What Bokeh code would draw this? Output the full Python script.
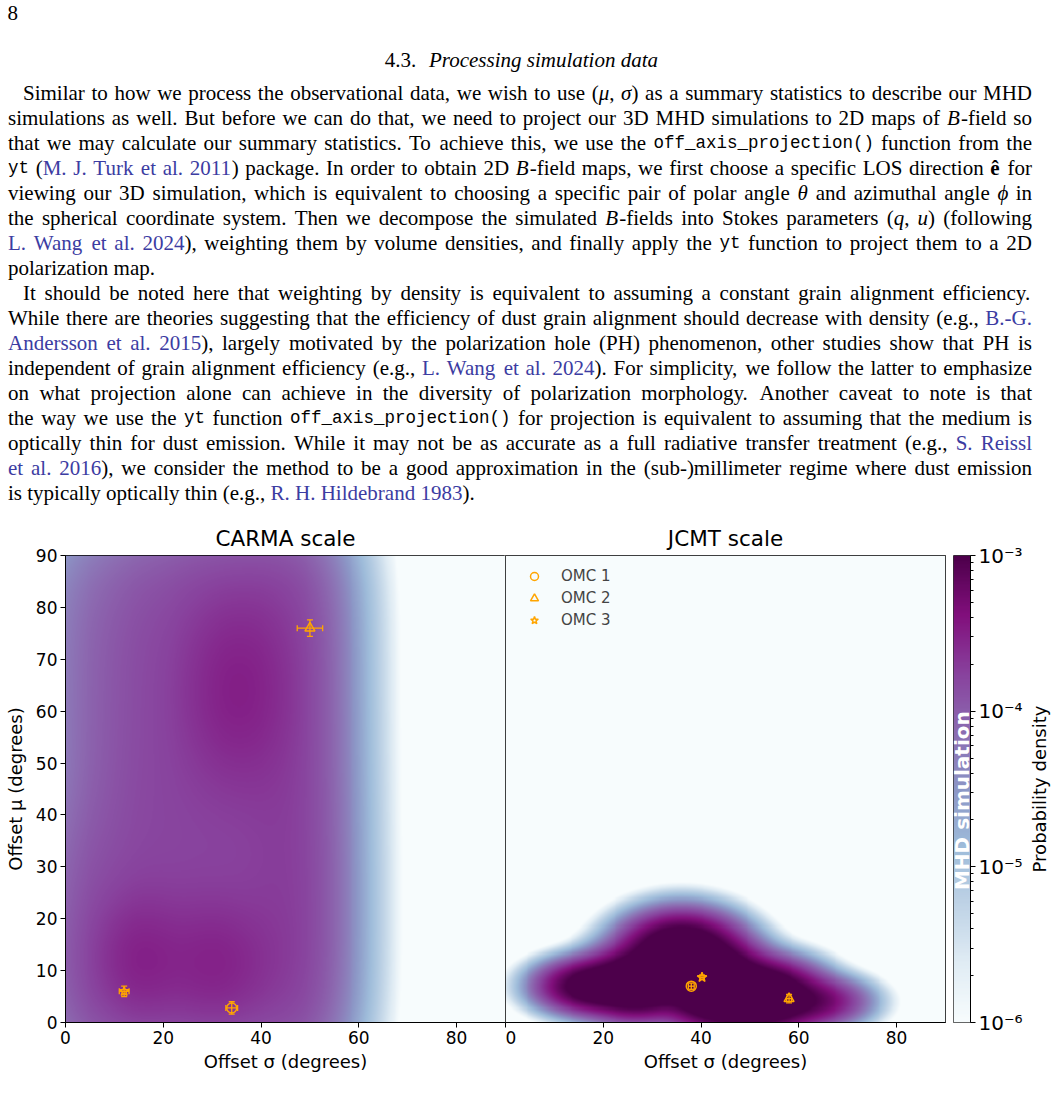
import numpy as np
from bokeh.plotting import figure
from bokeh.models import Range1d, ColumnDataSource, LinearColorMapper, FixedTicker
from bokeh.layouts import column, row
from bokeh.embed import file_html
from bokeh.resources import INLINE
from bokeh.core.properties import value

# ---------------- data ----------------
omc_labels = ["OMC 1", "OMC 2", "OMC 3"]
omc_markers = ["circle", "triangle", "star"]

carma_sigma = [34.0, 50.0, 12.0]
carma_mu = [2.8, 76.0, 6.0]
carma_sigma_err = [1.2, 2.6, 1.0]
carma_mu_err = [1.2, 1.6, 1.0]

jcmt_sigma = [38.0, 58.0, 40.2]
jcmt_mu = [7.0, 4.6, 8.7]
jcmt_sigma_err = [0.6, 0.5, 0.4]
jcmt_mu_err = [0.6, 0.8, 0.4]

# CARMA density: kernel weights on a coarse grid (units of 1e-5) + three dense spots
carma_grid_x = [4, 16, 28, 40, 49]
carma_grid_y = [2, 16, 30, 44, 58, 72, 86]
carma_grid_sx = [7, 7, 7, 7, 6.5]
carma_grid_sy = 9
carma_grid_w = [
    [6.5, 7.5, 7.5, 7.0, 6.5],
    [6.5, 7.5, 7.5, 7.0, 7.0],
    [5.5, 7.0, 7.0, 7.0, 7.0],
    [3.5, 7.0, 7.0, 7.0, 6.5],
    [3.5, 6.5, 7.5, 7.5, 6.0],
    [3.5, 6.5, 7.5, 7.5, 6.0],
    [3.0, 5.5, 7.0, 7.0, 5.5],
]
carma_spot_x = [15, 31, 35]
carma_spot_y = [12, 11, 64]
carma_spot_sx = [6, 7, 7]
carma_spot_sy = [8, 8, 12]
carma_spot_amp = [1.3e-4, 1.3e-4, 1.4e-4]

# JCMT density: kernel components
jcmt_cx = [18, 27, 36, 43, 52, 63]
jcmt_cy = [7, 7.5, 13, 7, 5, 4]
jcmt_sx = [5, 5, 5.5, 5, 5.5, 5]
jcmt_sy = [2.3, 3, 3.5, 3.5, 3, 2.2]
jcmt_amp = [1.8e-3, 3e-3, 3.2e-3, 4e-3, 3.5e-3, 0.6e-3]

cbar_exponents = [-6, -5, -4, -3]
cbar_labels = ["10\u207b\u2076", "10\u207b\u2075", "10\u207b\u2074", "10\u207b\u00b3"]

# ---------------- page text ----------------
para1 = [
    "Similar to how we process the observational data, we wish to use (*\u03bc*, *\u03c3*) as a summary statistics to describe our MHD",
    "simulations as well. But before we can do that, we need to project our 3D MHD simulations to 2D maps of *B*-field so",
    "that we may calculate our summary statistics. To achieve this, we use the `off_axis_projection()` function from the",
    "`yt` ([M. J. Turk et al. 2011]) package. In order to obtain 2D *B*-field maps, we first choose a specific LOS direction ^\u00ea^ for",
    "viewing our 3D simulation, which is equivalent to choosing a specific pair of polar angle *\u03b8* and azimuthal angle *\u03d5* in",
    "the spherical coordinate system. Then we decompose the simulated *B*-fields into Stokes parameters (*q*, *u*) (following",
    "[L. Wang et al. 2024]), weighting them by volume densities, and finally apply the `yt` function to project them to a 2D",
    "polarization map.",
]
para2 = [
    "It should be noted here that weighting by density is equivalent to assuming a constant grain alignment efficiency.",
    "While there are theories suggesting that the efficiency of dust grain alignment should decrease with density (e.g., [B.-G.]",
    "[Andersson et al. 2015]), largely motivated by the polarization hole (PH) phenomenon, other studies show that PH is",
    "independent of grain alignment efficiency (e.g., [L. Wang et al. 2024]). For simplicity, we follow the latter to emphasize",
    "on what projection alone can achieve in the diversity of polarization morphology. Another caveat to note is that",
    "the way we use the `yt` function `off_axis_projection()` for projection is equivalent to assuming that the medium is",
    "optically thin for dust emission. While it may not be as accurate as a full radiative transfer treatment (e.g., [S. Reissl]",
    "[et al. 2016]), we consider the method to be a good approximation in the (sub-)millimeter regime where dust emission",
    "is typically optically thin (e.g., [R. H. Hildebrand 1983]).",
]

SERIF = "Liberation Serif"
MONO = "Liberation Mono"
FS = 21.0
FSM = 17.5
LINK = "#3c3ca2"
W = {" ": 250, "!": 333, "(": 333, ")": 333, ",": 250, "-": 333, ".": 250, ":": 278, ";": 278,
     "0": 500, "1": 500, "2": 500, "3": 500, "4": 500, "5": 500, "6": 500, "7": 500, "8": 500, "9": 500,
     "A": 722, "B": 667, "C": 667, "D": 722, "E": 611, "F": 556, "G": 722, "H": 722, "I": 333, "J": 389,
     "K": 722, "L": 611, "M": 889, "N": 722, "O": 722, "P": 556, "Q": 722, "R": 667, "S": 556, "T": 611,
     "U": 722, "V": 722, "W": 944, "X": 722, "Y": 722, "Z": 611,
     "a": 444, "b": 500, "c": 444, "d": 500, "e": 444, "f": 333, "g": 500, "h": 500, "i": 278, "j": 278,
     "k": 500, "l": 278, "m": 778, "n": 500, "o": 500, "p": 500, "q": 500, "r": 333, "s": 389, "t": 278,
     "u": 500, "v": 500, "w": 722, "x": 500, "y": 500, "z": 444}


def seg_width(txt, st):
    if st[1]:
        return 0.6 * FSM * len(txt)
    return sum(W.get(c, 500) for c in txt) / 1000.0 * FS


def parse(line):
    words, cur, buf = [], [], ""
    st = [False, False, False, False]  # italic, mono, link, bold
    for ch in line + " ":
        if ch in "*`[]^":
            if buf:
                cur.append((buf, tuple(st)))
                buf = ""
            idx = {"*": 0, "`": 1, "[": 2, "]": 2, "^": 3}[ch]
            st[idx] = not st[idx]
        elif ch == " ":
            if buf:
                cur.append((buf, tuple(st)))
                buf = ""
            if cur:
                words.append(cur)
                cur = []
        else:
            buf += ch
    return words


groups = {}


def add_seg(x, y, txt, st):
    font = MONO if st[1] else SERIF
    size = FSM if st[1] else FS
    style = "bold" if st[3] else ("italic" if st[0] else "normal")
    color = LINK if st[2] else "black"
    g = groups.setdefault((font, size, style, color), {"x": [], "y": [], "text": []})
    g["x"].append(x)
    g["y"].append(y)
    g["text"].append(txt)


LEFT, RIGHT, INDENT = 7.5, 1031.5, 15.0
PITCH = 25.06
line_base = [92 + PITCH * k for k in range(len(para1) + len(para2))]
k = 0
for para in (para1, para2):
    for li, line in enumerate(para):
        words = parse(line)
        widths = [sum(seg_width(t, s) for t, s in w) for w in words]
        left = LEFT + (INDENT if li == 0 else 0)
        last = li == len(para) - 1
        gap = 0.25 * FS if last else (RIGHT - left - sum(widths)) / (len(words) - 1)
        x = left
        for w, wd in zip(words, widths):
            xx = x
            for t, s in w:
                add_seg(xx, line_base[k], t, s)
                xx += seg_width(t, s)
            x += wd + gap
        k += 1

# section title & page number
t1 = ("4.3.", (False, False, False, False))
t2 = ("Processing simulation data", (True, False, False, False))
tw = seg_width(t1[0], t1[1]) + 0.6 * FS + seg_width(t2[0], t2[1])
tx = 519 - tw / 2
add_seg(tx, 59, t1[0], t1[1])
add_seg(tx + seg_width(t1[0], t1[1]) + 0.6 * FS, 59, t2[0], t2[1])
add_seg(7, 12, "8", (False, False, False, False))

TH = 510
tp = figure(width=1053, height=TH, x_range=Range1d(0, 1053), y_range=Range1d(TH, 0),
            x_axis_location=None, y_axis_location=None, min_border=0,
            output_backend="svg", toolbar_location=None)
tp.grid.visible = False
tp.outline_line_color = None
for (font, size, style, color), g in groups.items():
    tp.text(x="x", y="y", text="text", source=ColumnDataSource(g), text_font=value(font),
            text_font_style=style, text_color=color, text_font_size=f"{size}px",
            text_align="left", text_baseline="alphabetic")

# ---------------- colour map ----------------
bupu9 = ["#f7fcfd", "#e0ecf4", "#bfd3e6", "#9ebcda", "#8c96c6", "#8c6bb1", "#88419d", "#810f7c", "#4d004b"]
rgb = np.array([[int(s[i:i + 2], 16) for i in (1, 3, 5)] for s in bupu9], float)
tt = np.linspace(0, 1, 256)
ts = np.linspace(0, 1, len(bupu9))
palette = ["#%02x%02x%02x" % tuple(int(round(np.interp(v, ts, rgb[:, c]))) for c in range(3)) for v in tt]
mapper = LinearColorMapper(palette=palette, low=-6, high=-3)

N = 450
cells = (np.arange(N) + 0.5) * 90.0 / N
GX, GY = np.meshgrid(cells, cells)


def kernel(a, b, c, e, f):
    return f * np.exp(-0.5 * (((GX - a) / c) ** 2 + ((GY - b) / e) ** 2))


carma_d = np.zeros_like(GX)
for iy, yc in enumerate(carma_grid_y):
    for ix, xc in enumerate(carma_grid_x):
        carma_d += kernel(xc, yc, carma_grid_sx[ix], carma_grid_sy, carma_grid_w[iy][ix] * 1e-5)
for a, b, c, e, f in zip(carma_spot_x, carma_spot_y, carma_spot_sx, carma_spot_sy, carma_spot_amp):
    carma_d += kernel(a, b, c, e, f)
jcmt_d = np.zeros_like(GX)
for a, b, c, e, f in zip(jcmt_cx, jcmt_cy, jcmt_sx, jcmt_sy, jcmt_amp):
    jcmt_d += kernel(a, b, c, e, f)
carma_log = np.log10(np.maximum(carma_d, 1e-12))
jcmt_log = np.log10(np.maximum(jcmt_d, 1e-12))

FONT = "DejaVu Sans"
H2 = 1095 - TH
MT, MB = 45, 73


def style_axes(p):
    for ax in p.axis:
        ax.major_label_text_font = FONT
        ax.major_label_text_font_size = "17px"
        ax.major_label_text_color = "black"
        ax.axis_label_text_font = FONT
        ax.axis_label_text_font_size = "18px"
        ax.axis_label_text_font_style = "normal"
        ax.axis_label_text_color = "black"
        ax.major_tick_in = 0
        ax.major_tick_out = 5
        ax.minor_tick_out = 0
        ax.minor_tick_in = 0
        ax.axis_line_color = "black"
        ax.major_tick_line_color = "black"
        ax.major_label_standoff = 3
    p.grid.visible = False
    p.outline_line_color = "black"
    p.outline_line_width = 1
    p.title.text_font = FONT
    p.title.text_font_size = "21.5px"
    p.title.text_font_style = "normal"
    p.title.text_color = "black"
    p.title.align = "center"


ORANGE = "#ffa500"


def add_obs(p, xs, ys, xe, ye, legend):
    x0 = [a - b for a, b in zip(xs, xe)]
    x1 = [a + b for a, b in zip(xs, xe)]
    y0 = [a - b for a, b in zip(ys, ye)]
    y1 = [a + b for a, b in zip(ys, ye)]
    p.segment(x0=x0, y0=ys, x1=x1, y1=ys, line_color=ORANGE, line_width=1.3)
    p.segment(x0=xs, y0=y0, x1=xs, y1=y1, line_color=ORANGE, line_width=1.3)
    p.scatter(x=x0 + x1, y=ys + ys, marker="dash", angle=np.pi / 2, size=6, line_color=ORANGE, line_width=1.3)
    p.scatter(x=xs + xs, y=y0 + y1, marker="dash", size=6, line_color=ORANGE, line_width=1.3)
    for i in range(len(xs)):
        kw = dict(legend_label=omc_labels[i]) if legend else {}
        p.scatter(x=[xs[i]], y=[ys[i]], marker=omc_markers[i], size=10, line_color=ORANGE,
                  fill_color=None, line_width=1.5, **kw)


lp = figure(width=505, height=H2, x_range=Range1d(0, 90), y_range=Range1d(0, 90),
            min_border_left=65, min_border_right=0, min_border_top=MT, min_border_bottom=MB,
            title="CARMA scale", output_backend="svg", toolbar_location=None)
lp.image(image=[carma_log], x=0, y=0, dw=90, dh=90, color_mapper=mapper)
lp.xaxis.ticker = FixedTicker(ticks=[0, 20, 40, 60, 80])
lp.yaxis.ticker = FixedTicker(ticks=list(range(0, 91, 10)))
lp.xaxis.axis_label = "Offset \u03c3 (degrees)"
lp.yaxis.axis_label = "Offset \u03bc (degrees)"
style_axes(lp)
lp.xaxis.axis_label_standoff = 4
lp.yaxis.axis_label_standoff = 7
add_obs(lp, carma_sigma, carma_mu, carma_sigma_err, carma_mu_err, False)

rp = figure(width=448, height=H2, x_range=Range1d(0, 90), y_range=Range1d(0, 90),
            min_border_left=0, min_border_right=8, min_border_top=MT, min_border_bottom=MB,
            title="JCMT scale", output_backend="svg", toolbar_location=None)
rp.image(image=[jcmt_log], x=0, y=0, dw=90, dh=90, color_mapper=mapper)
rp.xaxis.ticker = FixedTicker(ticks=[0, 20, 40, 60, 80])
rp.xaxis.axis_label = "Offset \u03c3 (degrees)"
style_axes(rp)
rp.yaxis.visible = False
rp.xaxis.axis_label_standoff = 4
add_obs(rp, jcmt_sigma, jcmt_mu, jcmt_sigma_err, jcmt_mu_err, True)
lg = rp.legend[0]
lg.location = "top_left"
lg.border_line_color = None
lg.background_fill_alpha = 0
lg.label_text_font = FONT
lg.label_text_font_size = "15px"
lg.glyph_width = 36
lg.glyph_height = 20
lg.label_height = 20
lg.spacing = 2
lg.margin = 11
lg.padding = 5
lg.label_standoff = 9

# colour bar as its own small figure
CBW = 72
cb = figure(width=CBW, height=H2, x_range=Range1d(0, 1), y_range=Range1d(-6, -3),
            min_border_left=0, min_border_right=CBW - 24, min_border_top=MT, min_border_bottom=MB,
            x_axis_location=None, y_axis_location="right", output_backend="svg", toolbar_location=None)
ramp = np.linspace(-6, -3, 400).reshape(-1, 1)
cb.image(image=[ramp], x=0, y=-6, dw=1, dh=3, color_mapper=mapper)
minor = [e + np.log10(m) for e in cbar_exponents[:-1] for m in range(2, 10)]
cb.yaxis.ticker = FixedTicker(ticks=cbar_exponents, minor_ticks=minor)
cb.yaxis.major_label_overrides = {e: l for e, l in zip(cbar_exponents, cbar_labels)}
style_axes(cb)
cb.yaxis.major_label_text_font_size = "20px"
cb.yaxis.minor_tick_out = 3
cb.yaxis.minor_tick_line_color = "black"
cb.outline_line_color = "#333333"
cb.text(x=[0.5], y=[-4.575], text=["MHD simulation"], angle=np.pi / 2, text_align="center",
        text_baseline="middle", text_color="white", text_font=value(FONT), text_font_style="bold",
        text_font_size="20px")

# colour-bar label carried by the left axis of a thin companion figure
LW = 1053 - 505 - 448 - CBW
lab = figure(width=LW, height=H2, x_range=Range1d(0, 1), y_range=Range1d(-6, -3),
             min_border_left=0, min_border_right=0, min_border_top=MT, min_border_bottom=MB,
             x_axis_location=None, y_axis_location="left", output_backend="svg", toolbar_location=None)
lab.grid.visible = False
lab.outline_line_color = None
lab.yaxis.ticker = FixedTicker(ticks=[])
lab.yaxis.axis_line_color = None
lab.yaxis.major_tick_out = 0
lab.yaxis.minor_tick_out = 0
lab.yaxis.major_label_standoff = 0
lab.yaxis.axis_label = "Probability density"
lab.yaxis.axis_label_text_font = FONT
lab.yaxis.axis_label_text_font_size = "18px"
lab.yaxis.axis_label_text_font_style = "normal"
lab.yaxis.axis_label_text_color = "black"
lab.yaxis.axis_label_standoff = 0

layout = column(tp, row(lp, rp, cb, lab))
open("out.html", "w").write(file_html(layout, INLINE))
